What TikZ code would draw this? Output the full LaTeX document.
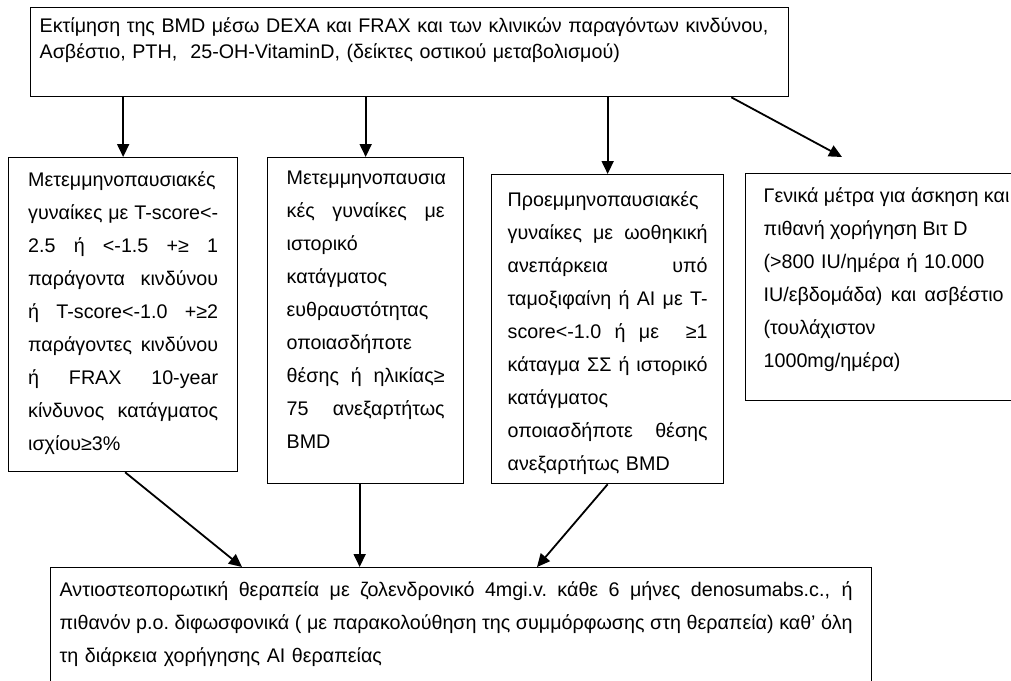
\documentclass[tikz,border=0pt]{standalone}
\usepackage{fontspec}
\setmainfont{Liberation Sans}
\usetikzlibrary{arrows.meta, positioning}
\tikzstyle{box} = [draw, line width=1.3pt, anchor=north west, inner ysep=0pt, font=\fontsize{19.7}{33}\selectfont]
\tikzstyle{arrow} = [line width=1.8pt, -{Triangle[length=13pt, width=12pt]}]
\newcommand{\jl}[2][\hsize]{{\spaceskip=0.278em plus 1fil\xspaceskip=\spaceskip\makebox[#1][s]{#2}}}

\begin{document}
\begin{tikzpicture}[x=1pt, y=-1pt]
	\useasboundingbox (0,0) rectangle (1011,680);
	\clip (0,0) rectangle (1011,680);
	\fill[white] (0,0) rectangle (1011,680);
	% top box
	\node[box, text width=740pt, inner xsep=9pt, text height=25pt, text depth=64pt, font=\fontsize{19.7}{25.5}\selectfont] (eval) at (30,7) {
		Εκτίμηση της BMD μέσω DEXA και FRAX και των κλινικών παραγόντων κινδύνου,\\
		Ασβέστιο, PTH, \ 25-OH-VitaminD, (δείκτες οστικού μεταβολισμού)
	};
	% the four groups
	\node[box, text width=190pt, inner xsep=19.5pt, text height=29pt, text depth=285pt] (pm1) at (8,157) {
		Μετεμμηνοπαυσιακές\\
		\jl{γυναίκες με T-score<-}\\
		\jl{2.5 ή <-1.5 +≥ 1}\\
		\jl{παράγοντα κινδύνου}\\
		\jl{ή T-score<-1.0 +≥2}\\
		\jl{παράγοντες κινδύνου}\\
		\jl{ή FRAX 10-year}\\
		\jl{κίνδυνος κατάγματος}\\
		ισχίου≥3\%
	};
	\node[box, text width=158pt, inner xsep=19pt, text height=27pt, text depth=299pt] (pm2) at (267,157) {
		Μετεμμηνοπαυσια\\
		\jl{κές γυναίκες με}\\
		ιστορικό\\
		κατάγματος\\
		ευθραυστότητας\\
		οποιασδήποτε\\
		\jl{θέσης ή ηλικίας≥}\\
		\jl{75 ανεξαρτήτως}\\
		BMD
	};
	\node[box, text width=200pt, inner xsep=16pt, text height=32pt, text depth=277pt] (pre) at (491,174) {
		Προεμμηνοπαυσιακές\\
		\jl{γυναίκες με ωοθηκική}\\
		\jl{ανεπάρκεια υπό}\\
		\jl{ταμοξιφαίνη ή AI με T-}\\
		\jl{score<-1.0 ή με \ ≥1}\\
		\jl{κάταγμα ΣΣ ή ιστορικό}\\
		κατάγματος\\
		\jl{οποιασδήποτε θέσης}\\
		ανεξαρτήτως BMD
	};
	\node[box, text width=240pt, inner xsep=18pt, text height=29pt, text depth=198pt] (gen) at (745,173) {
		\jl{Γενικά μέτρα για άσκηση και}\\
		\jl[200pt]{πιθανή χορήγηση Βιτ D}\\
		(>800 IU/ημέρα ή 10.000\\
		\jl{IU/εβδομάδα) και ασβέστιο}\\
		(τουλάχιστον\\
		1000mg/ημέρα)
	};
	% therapy
	\node[box, text width=803pt, inner xsep=9pt, text height=29pt, text depth=130pt] (ther) at (50,567) {
		\jl[793pt]{Αντιοστεοπορωτική θεραπεία με ζολενδρονικό 4mgi.v. κάθε 6 μήνες denosumabs.c., ή}\\
		\jl[793pt]{πιθανόν p.o. διφωσφονικά ( με παρακολούθηση της συμμόρφωσης στη θεραπεία) καθ’ όλη}\\
		τη διάρκεια χορήγησης AI θεραπείας
	};
	\coordinate (gen-in) at (842,157);
	\draw[arrow] (pm1.north |- eval.south) -- (pm1.north);
	\draw[arrow] (pm2.north |- eval.south) -- (pm2.north);
	\draw[arrow] (pre.north |- eval.south) -- (pre.north);
	\draw[arrow] ([xshift=-58pt]eval.south east) -- (gen-in);
	\draw[arrow] ([xshift=2pt]pm1.south) -- ([xshift=192pt]ther.north west);
	\draw[arrow] ([xshift=-6pt]pm2.south) -- ([xshift=-6pt]pm2.south |- ther.north);
	\draw[arrow] (pre.south) -- ([xshift=487pt]ther.north west);
\end{tikzpicture}
\end{document}
